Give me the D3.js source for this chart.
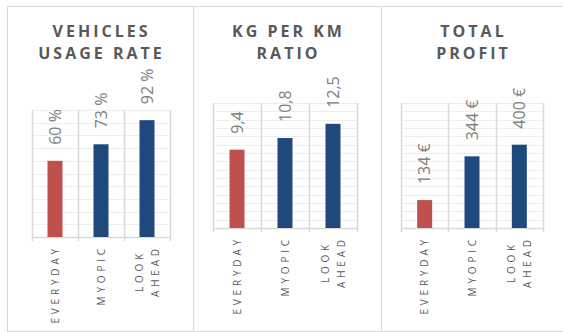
<!DOCTYPE html>
<html>
<head>
<meta charset="utf-8">
<script src="https://cdn.jsdelivr.net/npm/d3@7"></script>
<style>
  html, body { margin: 0; padding: 0; background: #fff; }
  svg { display: block; }
</style>
</head>
<body>
<svg id="chart" width="563" height="332"></svg>
<script>
// chart data
const categories = ["EVERYDAY", "MYOPIC", "LOOK AHEAD"];
const usageRate = [60, 73, 92];
const kgPerKm = [9.4, 10.8, 12.5];
const totalProfit = [134, 344, 400];
const titles = [["VEHICLES", "USAGE RATE"], ["KG PER KM", "RATIO"], ["TOTAL", "PROFIT"]];
const yMax = [100, 15, 600];
const yStep = [10, 1, 40];
const barColors = ["#c0504d", "#1f497d", "#1f497d"];

// label formats
const fmt = [
  v => v + " %",
  v => String(v).replace(".", ","),
  v => v + " €"
];

// panel boxes and plot areas
const panels = [
  { x0: 7, x1: 193, plot: { left: 32, right: 170, top: 110, bottom: 237 } },
  { x0: 193, x1: 381, plot: { left: 213, right: 357, top: 103, bottom: 228 } },
  { x0: 381, x1: 563, plot: { left: 401, right: 543, top: 103, bottom: 228 } }
];
const seriesList = [usageRate, kgPerKm, totalProfit];

var svg = d3.select("#chart");

panels.forEach(function (p, i) {
  var g = svg.append("g");

  //panel border
  g.append("rect")
    .attr("x", p.x0 + 0.5)
    .attr("y", 6.5)
    .attr("width", p.x1 - p.x0)
    .attr("height", 325)
    .attr("fill", "none")
    .attr("stroke", "#d9d9d9")
    .attr("stroke-width", 1);

  //title
  var cx = (p.x0 + p.x1) / 2;
  titles[i].forEach(function (line, k) {
    g.append("text")
      .attr("x", cx + 1.5)
      .attr("y", 37 + k * 22)
      .attr("text-anchor", "middle")
      .attr("font-family", "'Open Sans', sans-serif")
      .attr("font-weight", "bold")
      .attr("font-size", "16px")
      .attr("letter-spacing", "3px")
      .attr("fill", "#595959")
      .text(line);
  });

  var x = d3.scaleBand()
    .domain(categories)
    .range([p.plot.left, p.plot.right]);

  var y = d3.scaleLinear()
    .domain([0, yMax[i]])
    .range([p.plot.bottom, p.plot.top]);

  //horizontal gridlines
  g.append("g")
    .selectAll("line")
    .data(d3.range(yStep[i], yMax[i] + yStep[i] / 2, yStep[i]))
    .enter().append("line")
    .attr("x1", p.plot.left)
    .attr("x2", p.plot.right)
    .attr("y1", d => Math.round(y(d)) + 0.5)
    .attr("y2", d => Math.round(y(d)) + 0.5)
    .attr("stroke", "#eeeeee")
    .attr("stroke-width", 1);

  //vertical gridlines at category edges
  var edges = categories.map(c => x(c)).concat([p.plot.right]);
  g.append("g")
    .selectAll("line")
    .data(edges)
    .enter().append("line")
    .attr("x1", d => Math.round(d) + 0.5)
    .attr("x2", d => Math.round(d) + 0.5)
    .attr("y1", p.plot.top)
    .attr("y2", p.plot.bottom + 4)
    .attr("stroke", "#d9d9d9")
    .attr("stroke-width", 1.5);

  //axis line
  g.append("line")
    .attr("x1", p.plot.left)
    .attr("x2", p.plot.right + 1)
    .attr("y1", p.plot.bottom + 0.5)
    .attr("y2", p.plot.bottom + 0.5)
    .attr("stroke", "#d9d9d9")
    .attr("stroke-width", 1.5);

  //bars
  var bw = 15;
  var vals = seriesList[i];
  g.append("g")
    .selectAll("rect")
    .data(categories)
    .enter().append("rect")
    .attr("x", d => x(d) + x.bandwidth() / 2 - bw / 2)
    .attr("y", (d, j) => y(vals[j]))
    .attr("width", bw)
    .attr("height", (d, j) => p.plot.bottom - y(vals[j]))
    .attr("fill", (d, j) => barColors[j]);

  //data labels
  g.append("g")
    .selectAll("text")
    .data(categories)
    .enter().append("text")
    .attr("transform", (d, j) => "translate(" + (x(d) + x.bandwidth() / 2) + "," + (y(vals[j]) - 16) + ") rotate(-90)")
    .attr("dy", "0.36em")
    .attr("font-family", "'Open Sans', sans-serif")
    .attr("font-size", "16px")
    .attr("fill", "#808080")
    .text((d, j) => fmt[i](vals[j]));

  //category labels, rotated, possibly on two lines
  categories.forEach(function (c) {
    var lines = c.split(" ");
    var center = x(c) + x.bandwidth() / 2;
    var texts = lines.map(function (line, k) {
      return g.append("text")
        .attr("font-family", "'Open Sans', sans-serif")
        .attr("font-size", "10px")
        .attr("letter-spacing", "3.8px")
        .attr("fill", "#595959")
        .attr("text-anchor", "middle")
        .text(line);
    });
    var longest = d3.max(texts, t => t.node().getComputedTextLength());
    var mid = p.plot.bottom + 10 + longest / 2;
    texts.forEach(function (t, k) {
      var off = (k - (lines.length - 1) / 2) * 16;
      t.attr("transform", "translate(" + (center + off) + "," + mid + ") rotate(-90)")
        .attr("dy", "0.36em")
        .attr("dx", "1.9px");
    });
  });
});
</script>
</body>
</html>
